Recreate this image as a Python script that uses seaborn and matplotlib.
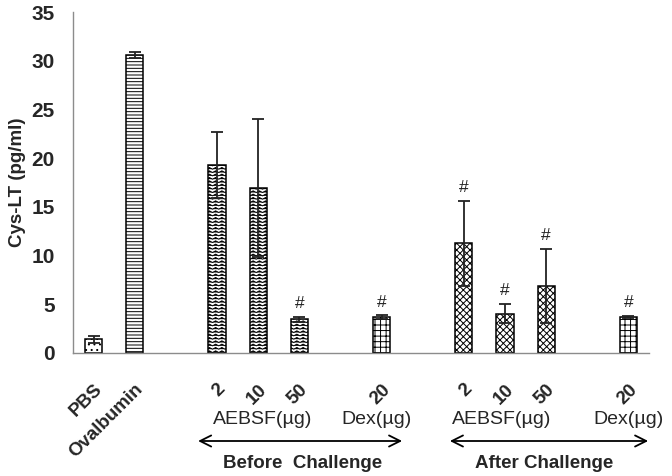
import warnings
import numpy as np
import pandas as pd
import matplotlib
matplotlib.use("Agg")
import matplotlib.pyplot as plt
import matplotlib.hatch as mhatch
from matplotlib.path import Path
import seaborn as sns

warnings.filterwarnings("ignore")

# slots on the x axis (gaps are empty positions)
slots = ["PBS", "Ovalbumin", "gap1", "B2", "B10", "B50", "gap2", "BDex",
         "gap3", "A2", "A10", "A50", "gap4", "ADex"]
tick_labels = ["PBS", "Ovalbumin", "", "2", "10", "50", "", "20",
               "", "2", "10", "50", "", "20"]

# data
groups = ["PBS", "Ovalbumin", "B2", "B10", "B50", "BDex", "A2", "A10", "A50", "ADex"]
means = [1.4, 30.6, 19.3, 16.95, 3.45, 3.65, 11.25, 4.05, 6.85, 3.7]
errors = [0.35, 0.3, 3.4, 7.1, 0.25, 0.2, 4.4, 0.95, 3.8, 0.1]
marked = [False, False, False, False, True, True, True, True, True, True]
hatches = ["...", "-----", "zzzzz", "zzzzz", "zzzzz", "+++", "xxxxx", "xxxxx", "xxxxx", "+++"]


# zigzag hatch ('z'), not in matplotlib by default
class ZigZagHatch(mhatch.HatchPatternBase):
    def __init__(self, hatch, density):
        self.num_rows = int(hatch.count('z') * density)
        self.num_teeth = int(self.num_rows * 0.55)
        self.per_row = 2 * self.num_teeth + 1
        self.num_vertices = self.num_rows * self.per_row if self.num_rows else 0

    def set_vertices_and_codes(self, vertices, codes):
        n, k = self.num_rows, self.per_row
        xs = np.linspace(0, 1, k)
        for i in range(n):
            y0 = (i + 0.25) / n
            ys = y0 + (np.arange(k) % 2) * (0.5 / n)
            vertices[i * k:(i + 1) * k, 0] = xs
            vertices[i * k:(i + 1) * k, 1] = ys
            codes[i * k] = Path.MOVETO
            codes[i * k + 1:(i + 1) * k] = Path.LINETO


mhatch._hatch_types.append(ZigZagHatch)

df = pd.DataFrame({"group": groups, "value": means})

sns.set_style("white")
plt.rcParams['font.family'] = ['Liberation Sans', 'DejaVu Sans']
plt.rcParams['hatch.linewidth'] = 0.7

fig = plt.figure(figsize=(6.72, 4.76), dpi=100)
ax = fig.add_axes([73 / 672, 1 - 353 / 476, (649 - 73) / 672, (353 - 12) / 476])

sns.barplot(data=df, x="group", y="value", order=slots, errorbar=None,
            color="white", edgecolor="black", linewidth=1.1, width=0.42,
            saturation=1, ax=ax)

pos = {s: i for i, s in enumerate(slots)}
for bar in ax.patches:
    i = int(round(bar.get_x() + bar.get_width() / 2))
    g = slots[i]
    if g in groups:
        bar.set_hatch(hatches[groups.index(g)])
        bar.set_facecolor("white")
        bar.set_edgecolor("black")

xs = [pos[g] for g in groups]
ax.errorbar(xs, means, yerr=errors, fmt="none", ecolor="#222222",
            elinewidth=1.3, capsize=4, capthick=1.3, zorder=5)

for x, m, e, flag in zip(xs, means, errors, marked):
    if flag:
        ax.text(x, m + e + 0.6, "#", ha="center", va="bottom", fontsize=12.5,
                color="#222222")

ax.set_xlim(-0.5, len(slots) - 0.5)
ax.set_ylim(0, 35)
ax.set_yticks(range(0, 36, 5))
ax.set_yticklabels([str(v) for v in range(0, 36, 5)], fontsize=15, fontweight="bold")
ax.set_xticks(range(len(slots)))
ax.set_xticklabels(tick_labels, rotation=45, ha="right", rotation_mode="anchor",
                   fontsize=13.5, fontweight="bold")
ax.set_xticks(np.arange(-0.5, len(slots), 1), minor=True)
ax.tick_params(axis="x", which="major", length=0, pad=20)
ax.tick_params(axis="x", which="minor", length=5, width=1, color="#8c8c8c", direction="out")
ax.tick_params(axis="y", length=5, width=1, color="#8c8c8c", direction="out", pad=8)
ax.set_xlabel("")
ax.set_ylabel("Cys-LT (pg/ml)", fontsize=13.5, fontweight="bold", labelpad=4)

for side in ["top", "right"]:
    ax.spines[side].set_visible(False)
for side in ["left", "bottom"]:
    ax.spines[side].set_color("#8c8c8c")
    ax.spines[side].set_linewidth(1)

# group annotations below the axis
tr = ("data", "figure fraction")
ax.annotate("AEBSF(µg)", (4.12, 1 - 420 / 476), xycoords=tr, ha="center", va="center", fontsize=14)
ax.annotate("Dex(µg)", (6.87, 1 - 420 / 476), xycoords=tr, ha="center", va="center", fontsize=14)
ax.annotate("AEBSF(µg)", (9.93, 1 - 420 / 476), xycoords=tr, ha="center", va="center", fontsize=14)
ax.annotate("Dex(µg)", (12.99, 1 - 420 / 476), xycoords=tr, ha="center", va="center", fontsize=14)
ax.annotate("Before  Challenge", (5.07, 1 - 463 / 476), xycoords=tr, ha="center", va="center",
            fontsize=13.5, fontweight="bold")
ax.annotate("After Challenge", (10.95, 1 - 463 / 476), xycoords=tr, ha="center", va="center",
            fontsize=13.5, fontweight="bold")

for x0, x1 in [(2.54, 7.5), (8.66, 13.48)]:
    ax.annotate("", xy=(x1, 1 - 441 / 476), xytext=(x0, 1 - 441 / 476),
                xycoords=tr, textcoords=tr,
                arrowprops=dict(arrowstyle="<->", color="black", lw=1.3,
                                mutation_scale=20, shrinkA=0, shrinkB=0))

fig.savefig("out.png", dpi=100)
